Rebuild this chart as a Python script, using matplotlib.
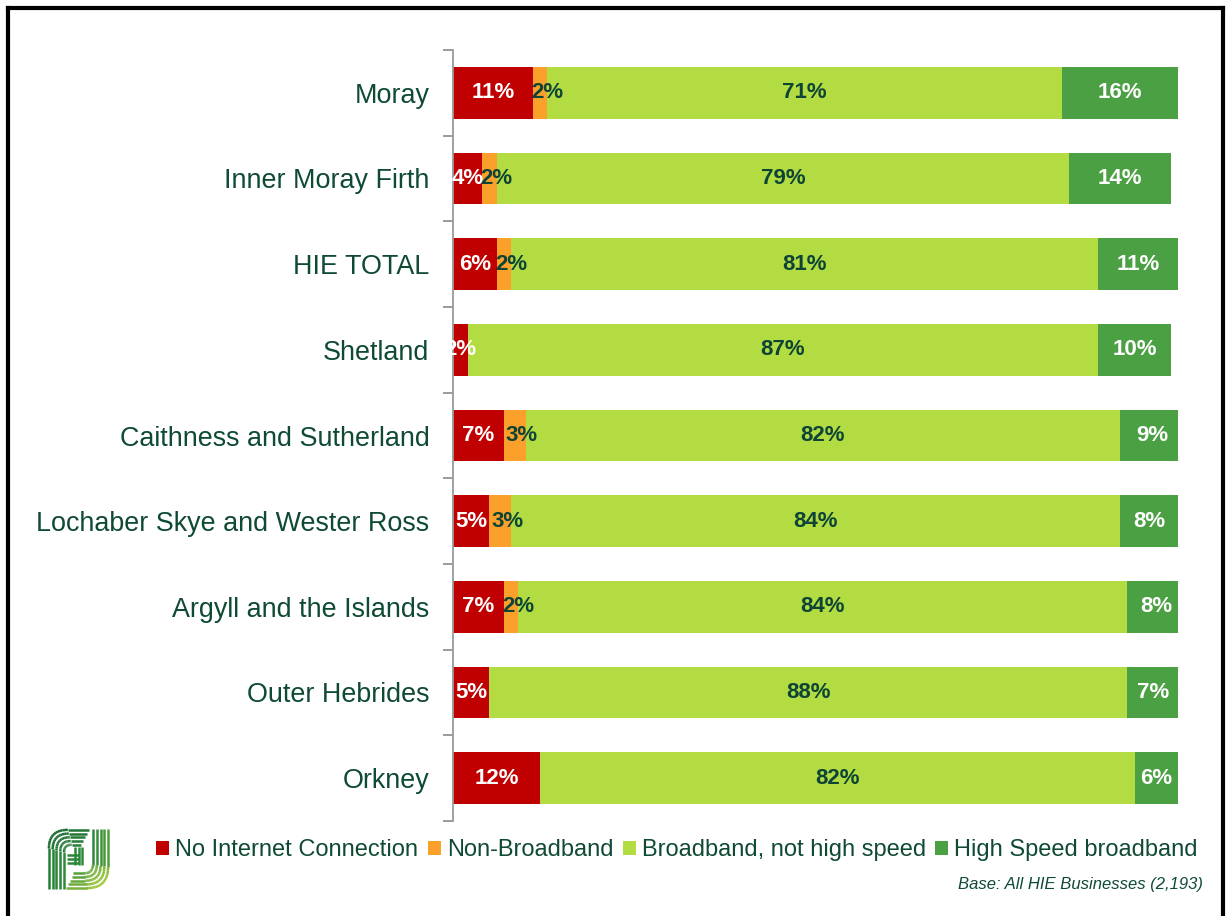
import numpy as np
import matplotlib
matplotlib.use("Agg")
import matplotlib.pyplot as plt
from matplotlib.patches import Patch
from matplotlib.lines import Line2D
from matplotlib.collections import LineCollection
from matplotlib.colors import LinearSegmentedColormap

plt.rcParams['font.family'] = ['Liberation Sans', 'DejaVu Sans']

# ---- data -------------------------------------------------------------
regions = [
    "Moray",
    "Inner Moray Firth",
    "HIE TOTAL",
    "Shetland",
    "Caithness and Sutherland",
    "Lochaber Skye and Wester Ross",
    "Argyll and the Islands",
    "Outer Hebrides",
    "Orkney",
]
no_internet = [11, 4, 6, 2, 7, 5, 7, 5, 12]
non_broadband = [2, 2, 2, 0, 3, 3, 2, 0, 0]
broadband_not_high = [71, 79, 81, 87, 82, 84, 84, 88, 82]
high_speed = [16, 14, 11, 10, 9, 8, 8, 7, 6]

series_names = ["No Internet Connection", "Non-Broadband",
                "Broadband, not high speed", "High Speed broadband"]
series_values = [no_internet, non_broadband, broadband_not_high, high_speed]
series_colors = ["#C00000", "#FBA12B", "#B3DC42", "#4BA043"]
label_colors = ["white", "#0E4436", "#0E4436", "white"]
# small horizontal nudge (data units) for labels of each series
label_shift = [0.0, 1.0, 0.0, 0.0]

text_green = "#0F4A33"
base_note = "Base: All HIE Businesses (2,193)"

# ---- figure -------------------------------------------------------------
W, H = 1229, 916
fig = plt.figure(figsize=(W / 100, H / 100), dpi=100)

ax_left, ax_right = 453, 1178
ax_top, ax_bot = 50, 821
ax = fig.add_axes([ax_left / W, 1 - ax_bot / H,
                   (ax_right - ax_left) / W, (ax_bot - ax_top) / H])

y = np.arange(len(regions))
left = np.zeros(len(regions))
for vals, col, lcol, dx in zip(series_values, series_colors, label_colors, label_shift):
    vals = np.array(vals, dtype=float)
    ax.barh(y, vals, left=left, height=0.6, color=col, edgecolor="none")
    for yi, (l, v) in enumerate(zip(left, vals)):
        if v > 0:
            ax.text(l + v / 2 + dx, yi, f"{int(v)}%", ha="center", va="center",
                    color=lcol, fontsize=16, fontweight="bold")
    left += vals

ax.set_xlim(0, 100)
ax.set_ylim(len(regions) - 0.5, -0.5)

for s in ["top", "right", "bottom"]:
    ax.spines[s].set_visible(False)
ax.spines["left"].set_color("#9A9A9A")
ax.spines["left"].set_linewidth(1.3)
ax.set_xticks([])

ax.set_yticks(y)
ax.set_yticklabels(regions, fontsize=19.4, color=text_green)
ax.tick_params(axis="y", which="major", length=0, pad=17)
ax.set_yticks(np.arange(-0.5, len(regions), 1.0), minor=True)
ax.tick_params(axis="y", which="minor", length=7, width=1.3, color="#8A9A8A")

# ---- legend -------------------------------------------------------------
handles = [Patch(facecolor=c, edgecolor="none") for c in series_colors]
leg = fig.legend(handles, series_names, loc="center", ncol=4,
                 bbox_to_anchor=(677 / W, 1 - 850 / H), frameon=False,
                 fontsize=17, handlelength=0.55, handleheight=0.55,
                 handletextpad=0.25, columnspacing=0.4, borderpad=0)
for t in leg.get_texts():
    t.set_color(text_green)

fig.text(1203 / W, 1 - 884 / H, base_note, ha="right", va="center",
         fontsize=12, style="italic", color=text_green)

# ---- logo -------------------------------------------------------------
lax = fig.add_axes([47 / W, 1 - 890 / H, 63 / W, 62 / H])
lax.set_xlim(0, 1)
lax.set_ylim(0, 1)
lax.axis("off")
cmap = LinearSegmentedColormap.from_list("logo", ["#14602E", "#2E8A3A", "#C6DC3A"])


def corner_path(p0, corner, p1, r, n=14):
    """Polyline from p0 to p1 turning round `corner` with radius r."""
    p0, corner, p1 = map(np.array, (p0, corner, p1))
    d0 = (corner - p0) / np.linalg.norm(corner - p0)
    d1 = (p1 - corner) / np.linalg.norm(p1 - corner)
    a = corner - d0 * r
    b = corner + d1 * r
    t = np.linspace(0, 1, n)[:, None]
    curve = (1 - t) ** 2 * a + 2 * (1 - t) * t * corner + t ** 2 * b
    return np.vstack([p0, curve, p1])


paths = []
sp = 0.06
for i in range(5):
    x0 = 0.03 + i * sp
    yt = 0.97 - i * sp
    paths.append(corner_path((x0, 0.02), (x0, yt), (0.66 - i * 0.03, yt), 0.3 - i * 0.045))
    x1 = 0.97 - i * sp
    yb = 0.03 + i * sp
    paths.append(corner_path((x1, 0.98), (x1, yb), (0.3 + i * 0.03, yb), 0.34 - i * 0.05))
# central cross pieces
for i in range(3):
    yy = 0.44 + i * sp
    paths.append(np.array([[0.03 + 5 * sp - 0.02, yy], [0.5, yy]]))
    xx = 0.44 + i * sp
    paths.append(np.array([[xx, 0.97 - 5 * sp + 0.02], [xx, 0.4]]))

segs, cols = [], []
for p in paths:
    for a, b in zip(p[:-1], p[1:]):
        segs.append([a, b])
        m = (a + b) / 2
        cols.append(cmap(np.clip(0.55 * (1 - m[1]) + 0.45 * m[0], 0, 1)))
lax.add_collection(LineCollection(segs, colors=cols, linewidths=1.8,
                                  capstyle="butt"))

# ---- page frame -------------------------------------------------------------
fw = 3.0
fig.add_artist(Line2D([8 / W, 8 / W], [0, 1 - 8 / H], color="black",
                      linewidth=fw, transform=fig.transFigure))
fig.add_artist(Line2D([8 / W, 1223 / W], [1 - 8 / H, 1 - 8 / H], color="black",
                      linewidth=fw, transform=fig.transFigure))
fig.add_artist(Line2D([1223 / W, 1223 / W], [0, 1 - 8 / H], color="black",
                      linewidth=fw, transform=fig.transFigure))

fig.savefig("out.png", dpi=100, facecolor="white")
